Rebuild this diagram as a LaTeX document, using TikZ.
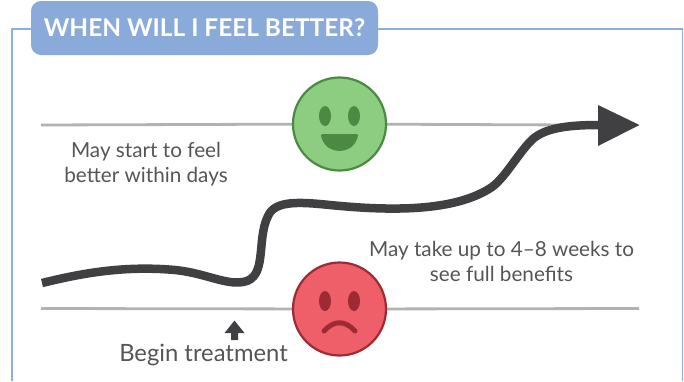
\documentclass[tikz,border=0pt]{standalone}
\usepackage{fontspec}
\setmainfont{Lato}
\definecolor{framecol}{RGB}{141, 173, 222}
\definecolor{titlecol}{RGB}{138, 171, 217}
\definecolor{linecol}{RGB}{178, 178, 178}
\definecolor{curvecol}{RGB}{64, 64, 66}
\definecolor{textcol}{RGB}{85, 85, 87}
\definecolor{goodfill}{RGB}{140, 205, 129}
\definecolor{goodedge}{RGB}{76, 138, 68}
\definecolor{badfill}{RGB}{238, 95, 105}
\definecolor{badedge}{RGB}{158, 43, 51}
\tikzset{
  facenode/.style={circle, line width=2.2pt, minimum size=93pt, inner sep=0pt},
  caption/.style={text=textcol, align=center, font=\fontsize{20.7}{25}\selectfont, inner sep=0pt},
  titlebox/.style={fill=titlecol, rounded corners=10pt, text=white, minimum width=347pt, minimum height=54pt, font=\fontsize{24.4}{27}\selectfont\bfseries, inner sep=0pt},
}
\begin{document}
\begin{tikzpicture}[x=1pt, y=-1pt]
          \useasboundingbox (0,0) rectangle (684,381);
          \draw[framecol, line width=1.1pt] (12,381) -- (12,29) -- (682.5,29) -- (682.5,381);
          \node[titlebox] (title) at (204.5,28) {WHEN WILL I FEEL BETTER?};
          \coordinate (upperleft) at (41,125);
          \coordinate (upperright) at (575,125);
          \coordinate (lowerleft) at (41,308.5);
          \coordinate (lowerright) at (639,308.5);
          \node[facenode] (good) at (339.5,124) {};
          \node[facenode] (bad) at (339.5,309) {};
          \draw[linecol, line width=2.8pt] (upperleft) -- (good);
          \draw[linecol, line width=2.8pt] (good) -- (upperright);
          \draw[linecol, line width=2.8pt] (lowerleft) -- (bad);
          \draw[linecol, line width=2.8pt] (bad) -- (lowerright);
          \node[facenode, draw=goodedge, fill=goodfill] at (good) {};
          \node[facenode, draw=badedge, fill=badfill] at (bad) {};
          \fill[goodedge] (325,116) ellipse (6pt and 10pt);
          \fill[goodedge] (354,116) ellipse (6pt and 10pt);
          \fill[goodedge] (323,134) -- (356,134) .. controls (359,134) and (358,137) .. (357,139) .. controls (354,147) and (347,151) .. (339.5,151) .. controls (332,151) and (325,147) .. (322,139) .. controls (321,137) and (320,134) .. (323,134) -- cycle;
          \fill[badedge] (325,301) ellipse (6pt and 10pt);
          \fill[badedge] (354,301) ellipse (6pt and 10pt);
          \draw[badedge, line width=5pt, line cap=round] (324,331) .. controls (334,320) and (345,320) .. (355,331);
          \coordinate (curvestart) at (42,283);
          \coordinate (headbase) at (600,125);
          \draw[curvecol, line width=8.5pt] (curvestart) .. controls (75,275) and (120,265) .. (175,270) .. controls (205,273) and (225,285) .. (243,282) .. controls (268,278) and (256,240) .. (268,216) .. controls (275,200) and (300,202) .. (330,205) .. controls (390,211) and (455,212) .. (492,187) .. controls (506,177) and (520,150) .. (534,138) .. controls (548,127) and (572,125) .. (headbase);
          \fill[curvecol] (598,105) -- (639.5,125) -- (598,146) -- cycle;
          \fill[curvecol] (234.5,320.5) -- (244.5,333) -- (238,333) -- (238,340) -- (231,340) -- (231,333) -- (224.5,333) -- cycle;
          \node[caption] (early) at (146,164) {May start to feel\\better within days};
          \node[caption] (late) at (501.5,261.5) {May take up to 4--8 weeks to\\see full benefits};
          \node[caption, font=\fontsize{23.8}{27}\selectfont] (begin) at (203.5,355) {Begin treatment};
        \end{tikzpicture}
\end{document}
